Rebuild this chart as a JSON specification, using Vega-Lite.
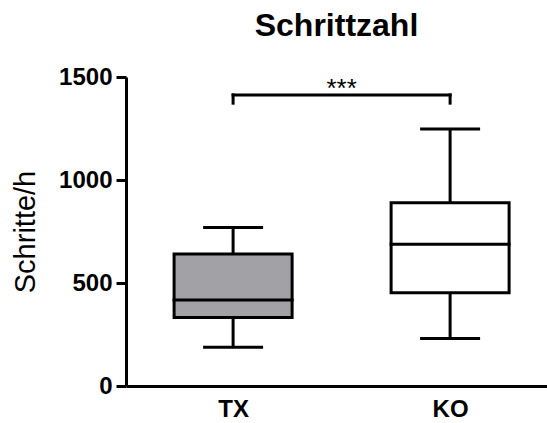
{
  "$schema": "https://vega.github.io/schema/vega-lite/v6.json",
  "width": 421,
  "height": 309,
  "autosize": {"type": "none"},
  "padding": {"left": 126, "top": 77, "right": 0, "bottom": 37},
  "background": "white",
  "title": {"text": "Schrittzahl", "fontSize": 32, "fontWeight": "bold", "font": "Liberation Sans", "color": "black", "anchor": "middle", "offset": 22},
  "datasets": {
    "boxes": [
      {"group": "TX", "min": 188, "q1": 332, "median": 417, "q3": 641, "max": 770},
      {"group": "KO", "min": 230, "q1": 453, "median": 688, "q3": 890, "max": 1248}
    ],
    "bracket": [
      {"from": "TX", "to": "KO", "pair": "TX vs KO", "top": 1413, "leg": 1373, "label": "***", "labelY": 1404}
    ]
  },
  "config": {
    "view": {"stroke": null},
    "font": "Liberation Sans",
    "axis": {"grid": false, "domainColor": "black", "domainWidth": 3, "tickColor": "black", "tickWidth": 3, "labelColor": "black", "labelFont": "Liberation Sans", "labelFontWeight": "bold", "labelFontSize": 24, "titleFont": "Liberation Sans", "titleColor": "black"},
    "axisY": {"tickSize": 10, "labelPadding": 4, "titleFontSize": 29, "titleFontWeight": "normal", "titlePadding": 18, "format": "d"},
    "axisX": {"ticks": false, "tickSize": 0, "labelPadding": 11, "labelAngle": 0}
  },
  "layer": [
    {
      "data": {"name": "boxes"},
      "mark": {"type": "rule", "strokeWidth": 3, "color": "black"},
      "encoding": {
        "x": {"field": "group", "type": "nominal", "title": null, "scale": {"type": "point", "domain": ["TX", "TX vs KO", "KO"], "padding": 0.94, "align": 0.525}, "axis": {"values": ["TX", "KO"]}},
        "y": {"field": "min", "type": "quantitative", "title": "Schritte/h", "scale": {"domain": [0, 1500], "nice": false}, "axis": {"values": [0, 500, 1000, 1500], "format": "d"}},
        "y2": {"field": "max"}
      }
    },
    {
      "data": {"name": "boxes"},
      "mark": {"type": "bar", "width": 118, "stroke": "black", "strokeWidth": 3},
      "encoding": {
        "x": {"field": "group", "type": "nominal", "title": null, "scale": {"type": "point", "domain": ["TX", "TX vs KO", "KO"], "padding": 0.94, "align": 0.525}, "axis": {"values": ["TX", "KO"]}},
        "y": {"field": "q1", "type": "quantitative", "title": "Schritte/h", "scale": {"domain": [0, 1500], "nice": false}, "axis": {"values": [0, 500, 1000, 1500], "format": "d"}},
        "y2": {"field": "q3"},
        "fill": {"field": "group", "type": "nominal", "scale": {"domain": ["TX", "KO"], "range": ["#a2a1a6", "#ffffff"]}, "legend": null}
      }
    },
    {
      "data": {"name": "boxes"},
      "mark": {"type": "tick", "orient": "horizontal", "size": 121, "thickness": 3, "color": "black", "opacity": 1},
      "encoding": {
        "x": {"field": "group", "type": "nominal", "title": null, "scale": {"type": "point", "domain": ["TX", "TX vs KO", "KO"], "padding": 0.94, "align": 0.525}, "axis": {"values": ["TX", "KO"]}},
        "y": {"field": "median", "type": "quantitative", "title": "Schritte/h", "scale": {"domain": [0, 1500], "nice": false}, "axis": {"values": [0, 500, 1000, 1500], "format": "d"}}
      }
    },
    {
      "data": {"name": "boxes"},
      "mark": {"type": "tick", "orient": "horizontal", "size": 60, "thickness": 3, "color": "black", "opacity": 1},
      "encoding": {
        "x": {"field": "group", "type": "nominal", "title": null, "scale": {"type": "point", "domain": ["TX", "TX vs KO", "KO"], "padding": 0.94, "align": 0.525}, "axis": {"values": ["TX", "KO"]}},
        "y": {"field": "min", "type": "quantitative", "title": "Schritte/h", "scale": {"domain": [0, 1500], "nice": false}, "axis": {"values": [0, 500, 1000, 1500], "format": "d"}}
      }
    },
    {
      "data": {"name": "boxes"},
      "mark": {"type": "tick", "orient": "horizontal", "size": 60, "thickness": 3, "color": "black", "opacity": 1},
      "encoding": {
        "x": {"field": "group", "type": "nominal", "title": null, "scale": {"type": "point", "domain": ["TX", "TX vs KO", "KO"], "padding": 0.94, "align": 0.525}, "axis": {"values": ["TX", "KO"]}},
        "y": {"field": "max", "type": "quantitative", "title": "Schritte/h", "scale": {"domain": [0, 1500], "nice": false}, "axis": {"values": [0, 500, 1000, 1500], "format": "d"}}
      }
    },
    {
      "data": {"name": "bracket"},
      "mark": {"type": "rule", "strokeWidth": 3, "color": "black", "strokeCap": "square"},
      "encoding": {
        "x": {"field": "from", "type": "nominal", "title": null, "scale": {"type": "point", "domain": ["TX", "TX vs KO", "KO"], "padding": 0.94, "align": 0.525}, "axis": {"values": ["TX", "KO"]}},
        "x2": {"field": "to"},
        "y": {"field": "top", "type": "quantitative", "title": "Schritte/h", "scale": {"domain": [0, 1500], "nice": false}, "axis": {"values": [0, 500, 1000, 1500], "format": "d"}}
      }
    },
    {
      "data": {"name": "bracket"},
      "mark": {"type": "rule", "strokeWidth": 3, "color": "black", "strokeCap": "square"},
      "encoding": {
        "x": {"field": "from", "type": "nominal", "title": null, "scale": {"type": "point", "domain": ["TX", "TX vs KO", "KO"], "padding": 0.94, "align": 0.525}, "axis": {"values": ["TX", "KO"]}},
        "y": {"field": "leg", "type": "quantitative", "title": "Schritte/h", "scale": {"domain": [0, 1500], "nice": false}, "axis": {"values": [0, 500, 1000, 1500], "format": "d"}},
        "y2": {"field": "top"}
      }
    },
    {
      "data": {"name": "bracket"},
      "mark": {"type": "rule", "strokeWidth": 3, "color": "black", "strokeCap": "square"},
      "encoding": {
        "x": {"field": "to", "type": "nominal", "title": null, "scale": {"type": "point", "domain": ["TX", "TX vs KO", "KO"], "padding": 0.94, "align": 0.525}, "axis": {"values": ["TX", "KO"]}},
        "y": {"field": "leg", "type": "quantitative", "title": "Schritte/h", "scale": {"domain": [0, 1500], "nice": false}, "axis": {"values": [0, 500, 1000, 1500], "format": "d"}},
        "y2": {"field": "top"}
      }
    },
    {
      "data": {"name": "bracket"},
      "mark": {"type": "text", "fontSize": 26, "font": "Liberation Sans", "color": "black", "align": "center", "baseline": "alphabetic"},
      "encoding": {
        "x": {"field": "pair", "type": "nominal", "title": null, "scale": {"type": "point", "domain": ["TX", "TX vs KO", "KO"], "padding": 0.94, "align": 0.525}, "axis": {"values": ["TX", "KO"]}},
        "y": {"field": "labelY", "type": "quantitative", "title": "Schritte/h", "scale": {"domain": [0, 1500], "nice": false}, "axis": {"values": [0, 500, 1000, 1500], "format": "d"}},
        "text": {"field": "label"}
      }
    }
  ]
}
